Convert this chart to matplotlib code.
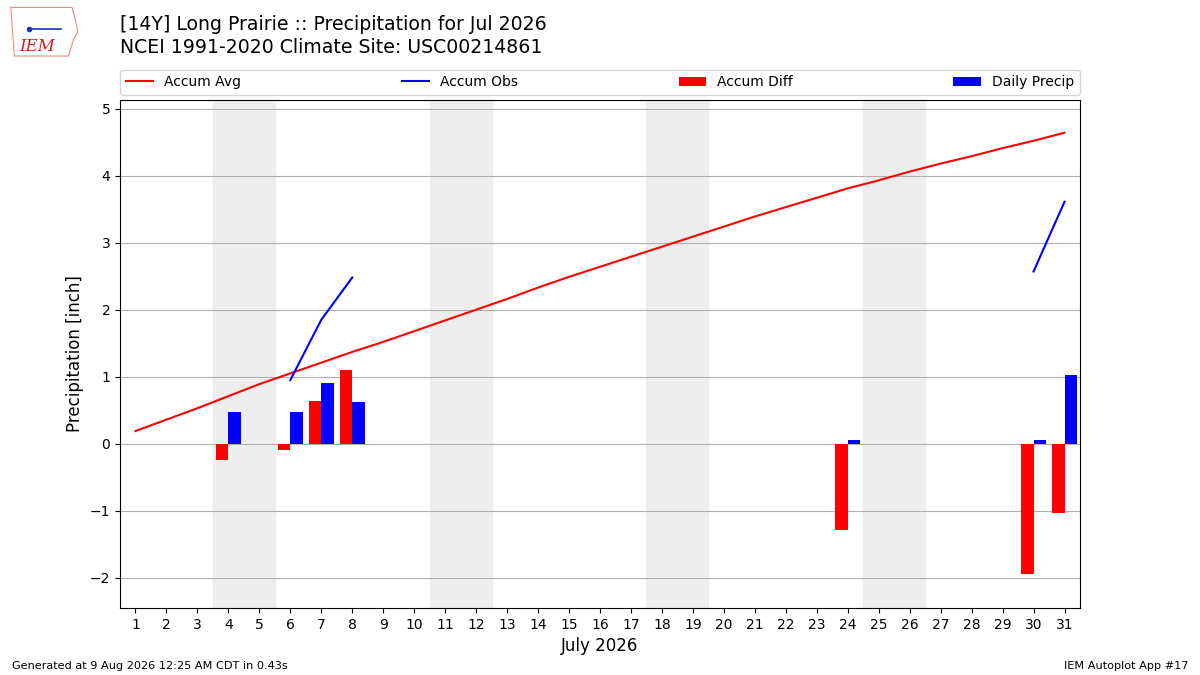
import matplotlib
matplotlib.use("Agg")
import matplotlib.pyplot as plt
import numpy as np

days = list(range(1, 32))
accum_avg = [0.19, 0.36, 0.53, 0.71, 0.89, 1.05, 1.21, 1.37, 1.52, 1.68,
             1.84, 2.00, 2.16, 2.33, 2.49, 2.64, 2.79, 2.94, 3.09, 3.24,
             3.39, 3.53, 3.67, 3.81, 3.93, 4.06, 4.18, 4.29, 4.41, 4.52, 4.64]

# observed days only (others missing)
obs_days = [4, 6, 7, 8, 24, 30, 31]
daily_precip = [0.47, 0.47, 0.91, 0.62, 0.06, 0.06, 1.03]
accum_diff = [-0.24, -0.10, 0.64, 1.10, -1.28, -1.95, -1.03]

# accum obs line segments (gaps where data is missing)
obs_seg1_days = [6, 7, 8]
obs_seg1 = [0.95, 1.85, 2.48]
obs_seg2_days = [30, 31]
obs_seg2 = [2.57, 3.61]

weekends = [4, 11, 18, 25]

fig = plt.figure(figsize=(12, 6.75), dpi=100)
ax = fig.add_axes([0.1, 0.0993, 0.8, 0.7527])

for d in weekends:
    ax.axvspan(d - 0.5, d + 1.5, color="#EEEEEE", zorder=0)

ax.plot(days, accum_avg, color="r", lw=1.5, label="Accum Avg", zorder=3)
ax.plot(obs_seg1_days, obs_seg1, color="b", lw=1.5, label="Accum Obs", zorder=3)
ax.plot(obs_seg2_days, obs_seg2, color="b", lw=1.5, zorder=3)
ax.bar(np.array(obs_days) - 0.4, accum_diff, width=0.4, align="edge",
       color="r", label="Accum Diff", zorder=2)
ax.bar(obs_days, daily_precip, width=0.4, align="edge",
       color="b", label="Daily Precip", zorder=2)

ax.set_xlim(0.5, 31.5)
ax.set_ylim(-2.45, 5.13)
ax.set_xticks(days)
ax.grid(axis="y", color="#b0b0b0", lw=0.8)
ax.set_axisbelow(True)
ax.set_xlabel("July 2026", fontsize=12)
ax.set_ylabel("Precipitation [inch]", fontsize=12)

ax.legend(loc="lower left", bbox_to_anchor=(0, 1.01, 1, 0.05), ncol=4,
          mode="expand", borderaxespad=0, fontsize=10)

fig.text(0.1, 0.964, "[14Y] Long Prairie :: Precipitation for Jul 2026",
         fontsize=13.6, ha="left", va="center")
fig.text(0.1, 0.930, "NCEI 1991-2020 Climate Site: USC00214861",
         fontsize=13.6, ha="left", va="center")
fig.text(0.01, 0.009, "Generated at 9 Aug 2026 12:25 AM CDT in 0.43s", fontsize=8.1)
fig.text(0.99, 0.009, "IEM Autoplot App #17", fontsize=8.1, ha="right")

# small logo
lax = fig.add_axes([0.006, 0.913, 0.06, 0.08])
lax.axis("off")
ox = [0.05, 0.9, 0.95, 0.98, 0.92, 0.85, 0.1, 0.05]
oy = [0.95, 0.95, 0.7, 0.5, 0.35, 0.05, 0.05, 0.95]
lax.plot(ox, oy, color="#e88", lw=0.8)
lax.plot([0.3, 0.75], [0.55, 0.55], color="#2233bb", lw=1.2)
lax.plot([0.3], [0.55], "o", color="#2233bb", ms=3)
lax.text(0.42, 0.22, "IEM", color="#cc2222", fontsize=12, style="italic",
         family="DejaVu Serif", ha="center", va="center")
lax.set_xlim(0, 1)
lax.set_ylim(0, 1)

fig.savefig("out.png", dpi=100)
